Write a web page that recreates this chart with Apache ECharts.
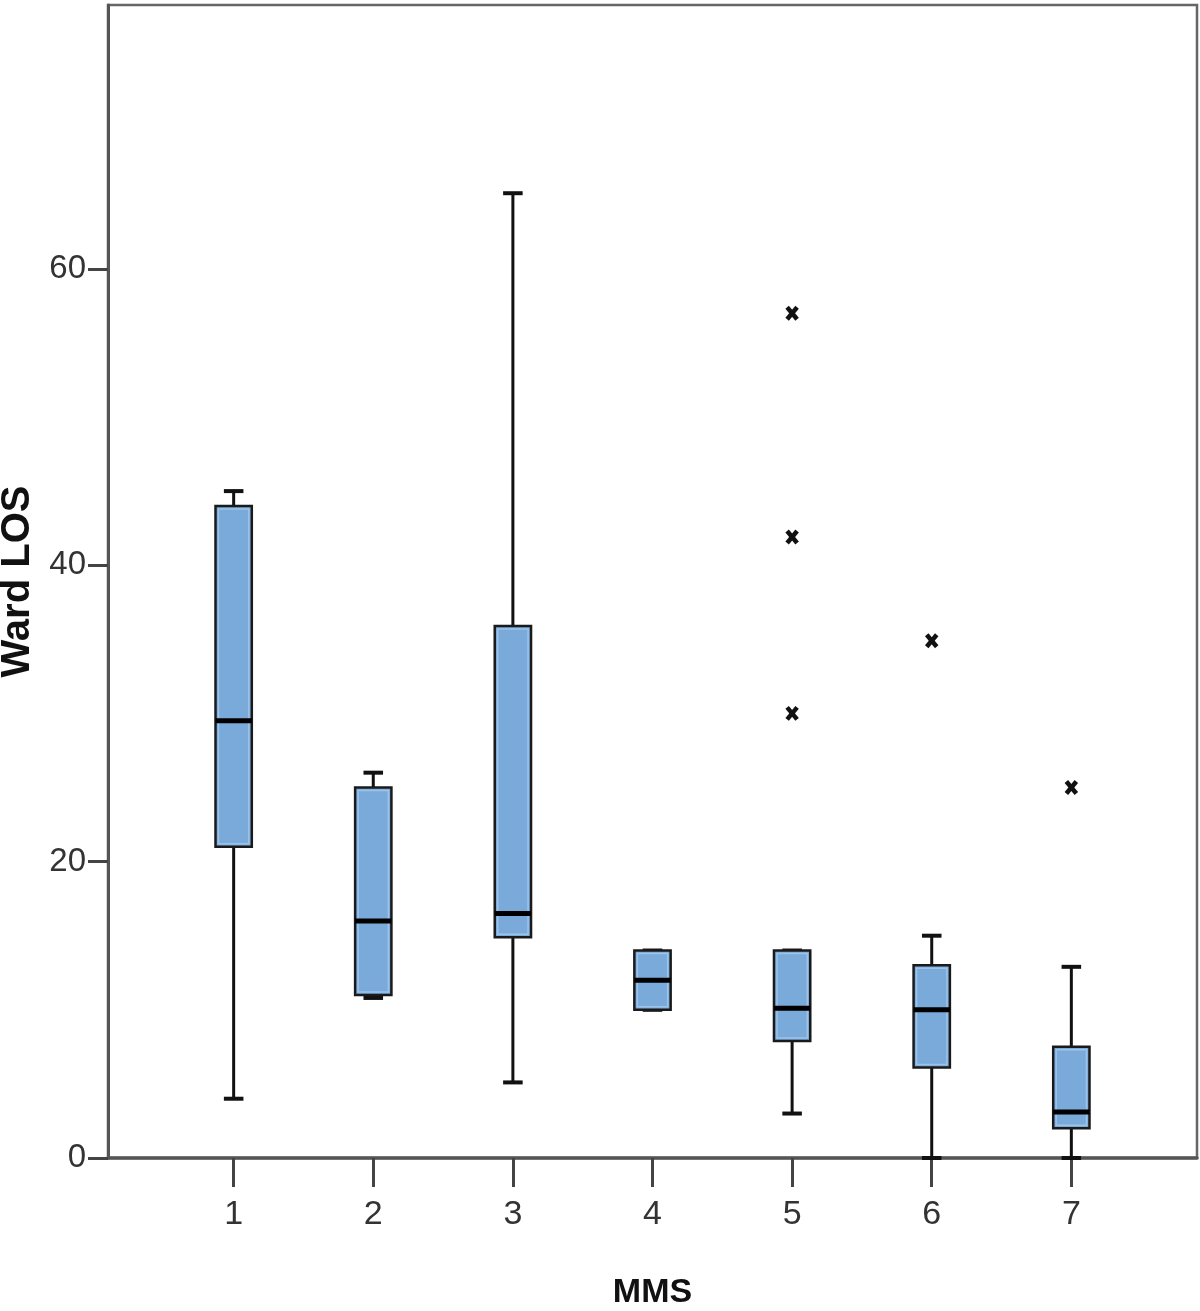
<!DOCTYPE html>
<html>
<head>
<meta charset="utf-8">
<script src="https://cdn.jsdelivr.net/npm/echarts@6/dist/echarts.min.js"></script>
<style>html,body{margin:0;padding:0;background:#fff;}#c{width:1200px;height:1311px;}</style>
</head>
<body>
<div id="c"></div>
<script>
var categories = [1, 2, 3, 4, 5, 6, 7];
var tickLabels = ['1', '2', '3', '4', '5', '6', '7'];
var yTicks = [0, 20, 40, 60];
var lowWhisker  = [4.0, 10.8, 5.1, 10.0, 3.0, 0.0, 0.0];
var q1          = [21.0, 11.0, 14.9, 10.0, 7.9, 6.1, 2.0];
var median      = [29.5, 16.0, 16.5, 12.0, 10.1, 10.0, 3.1];
var q3          = [44.0, 25.0, 35.9, 14.0, 14.0, 13.0, 7.5];
var highWhisker = [45.0, 26.0, 65.1, 14.0, 14.0, 15.0, 12.9];
var outlierX = [5, 5, 5, 6, 7];
var outlierY = [57.0, 41.9, 30.0, 34.9, 25.0];

var boxData = categories.map(function (c, i) {
  return [c, lowWhisker[i], q1[i], median[i], q3[i], highWhisker[i]];
});
var outlierData = outlierX.map(function (x, i) { return [x, outlierY[i]]; });

var chart = echarts.init(document.getElementById('c'), null, {renderer: 'canvas'});

function renderBox(params, api) {
  var x = api.value(0);
  var pLow = api.coord([x, api.value(1)]);
  var pQ1 = api.coord([x, api.value(2)]);
  var pMed = api.coord([x, api.value(3)]);
  var pQ3 = api.coord([x, api.value(4)]);
  var pHigh = api.coord([x, api.value(5)]);
  var unit = api.size([1, 0])[0];
  var bw = unit * 0.26;
  var cw = unit * 0.14;
  var cx = pMed[0];
  var lineStyle = {stroke: '#111', lineWidth: 3};
  var children = [
    {type: 'line', shape: {x1: cx, y1: pHigh[1], x2: cx, y2: pQ3[1]}, style: lineStyle},
    {type: 'line', shape: {x1: cx, y1: pQ1[1], x2: cx, y2: pLow[1]}, style: lineStyle},
    {type: 'line', shape: {x1: cx - cw / 2, y1: pHigh[1], x2: cx + cw / 2, y2: pHigh[1]}, style: {stroke: '#111', lineWidth: 4}},
    {type: 'line', shape: {x1: cx - cw / 2, y1: pLow[1], x2: cx + cw / 2, y2: pLow[1]}, style: {stroke: '#111', lineWidth: 4}},
    {type: 'rect', shape: {x: cx - bw / 2, y: pQ3[1], width: bw, height: pQ1[1] - pQ3[1]},
      style: {fill: '#7aaad9', stroke: '#1a1a1a', lineWidth: 2.5}},
    {type: 'rect', shape: {x: cx - bw / 2 + 3, y: pQ3[1] + 3, width: bw - 6, height: Math.max(0, pQ1[1] - pQ3[1] - 6)},
      style: {fill: 'none', stroke: '#9cc3ea', lineWidth: 1.5}},
    {type: 'line', shape: {x1: cx - bw / 2, y1: pMed[1], x2: cx + bw / 2, y2: pMed[1]}, style: {stroke: '#000', lineWidth: 5}}
  ];
  return {type: 'group', children: children};
}

function renderOutlier(params, api) {
  var p = api.coord([api.value(0), api.value(1)]);
  var w = 5, h = 6;
  var st = {stroke: '#111', lineWidth: 4.5};
  return {type: 'group', children: [
    {type: 'line', shape: {x1: p[0] - w, y1: p[1] - h, x2: p[0] + w, y2: p[1] + h}, style: st},
    {type: 'line', shape: {x1: p[0] + w, y1: p[1] - h, x2: p[0] - w, y2: p[1] + h}, style: st}
  ]};
}

var labelFont = "'Liberation Sans', Arial, sans-serif";

chart.setOption({
  animation: false,
  backgroundColor: '#fff',
  grid: {left: 108, top: 5, right: 3, bottom: 153, containLabel: false, outerBoundsMode: 'none',
    show: true, borderColor: '#666', borderWidth: 2.5, backgroundColor: 'transparent'},
  xAxis: {
    type: 'value', min: 0.1, max: 7.9,
    name: 'MMS', nameLocation: 'middle', nameGap: 118,
    nameTextStyle: {fontFamily: labelFont, fontWeight: 'bold', fontSize: 34, color: '#111'},
    axisLine: {show: true, onZero: false, lineStyle: {color: '#555', width: 3.5}},
    axisTick: {show: true, length: 29, customValues: categories, lineStyle: {color: '#444', width: 3}},
    axisLabel: {customValues: categories, margin: 40, fontFamily: labelFont, fontSize: 34, color: '#333',
      formatter: function (v) { return tickLabels[categories.indexOf(v)]; }},
    splitLine: {show: false}
  },
  yAxis: {
    type: 'value', min: 0, max: 77.8,
    name: 'Ward LOS', nameLocation: 'middle', nameGap: 70, nameRotate: 90,
    nameTextStyle: {fontFamily: labelFont, fontWeight: 'bold', fontSize: 40, color: '#111'},
    axisLine: {show: true, onZero: false, lineStyle: {color: '#555', width: 3}},
    axisTick: {show: true, length: 20, customValues: yTicks, lineStyle: {color: '#444', width: 3}},
    axisLabel: {customValues: yTicks, margin: 22, fontFamily: labelFont, fontSize: 33, color: '#333'},
    splitLine: {show: false}
  },
  series: [
    {type: 'custom', renderItem: renderBox, data: boxData, encode: {x: 0, y: [1, 2, 3, 4, 5]}, z: 3},
    {type: 'custom', renderItem: renderOutlier, data: outlierData, encode: {x: 0, y: 1}, z: 4}
  ]
});
</script>
</body>
</html>
